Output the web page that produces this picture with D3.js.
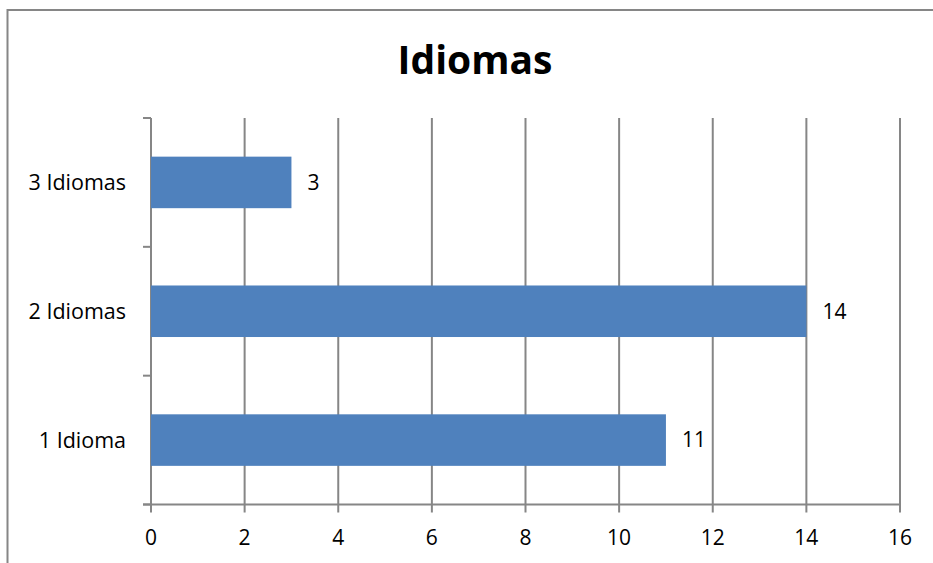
<!DOCTYPE html>
<html>
<head>
<meta charset="utf-8">
<script src="https://cdn.jsdelivr.net/npm/d3@7"></script>
<style>
  body { margin: 0; background: #fff; }
  text { font-family: "Open Sans", Lato, sans-serif; fill: #000; }
</style>
</head>
<body>
<svg></svg>
<script>
// Data
const categories = ["1 Idioma", "2 Idiomas", "3 Idiomas"];
const values = [11, 14, 3];
const xTicks = [0, 2, 4, 6, 8, 10, 12, 14, 16];
const title = "Idiomas";

const width = 933;
const height = 563;

const svg = d3.select("svg").attr("width", width).attr("height", height);

// Outer chart border (right and bottom edges fall outside the canvas)
svg.append("rect")
  .attr("x", 7.5).attr("y", 10)
  .attr("width", 940).attr("height", 570)
  .attr("fill", "#fff")
  .attr("stroke", "#868686")
  .attr("stroke-width", 2);

// Plot area
const plot = { left: 151, right: 900, top: 118, bottom: 504.5 };

const x = d3.scaleLinear().domain([0, 16]).range([plot.left, plot.right]);

// categories bottom-to-top
const y = d3.scaleBand()
  .domain(categories)
  .range([plot.bottom, plot.top])
  .paddingInner(0.6)
  .paddingOuter(0.3);

// Vertical gridlines
svg.append("g")
  .selectAll("line")
  .data(xTicks)
  .join("line")
  .attr("x1", (d) => x(d)).attr("x2", (d) => x(d))
  .attr("y1", plot.top).attr("y2", plot.bottom + 8)
  .attr("stroke", "#868686")
  .attr("stroke-width", 2);

// X axis line
svg.append("line")
  .attr("x1", plot.left - 8).attr("x2", plot.right)
  .attr("y1", plot.bottom).attr("y2", plot.bottom)
  .attr("stroke", "#868686").attr("stroke-width", 2);

// Y axis ticks at category boundaries
const step = (plot.bottom - plot.top) / categories.length;
svg.append("g")
  .selectAll("line")
  .data(d3.range(categories.length + 1))
  .join("line")
  .attr("x1", plot.left - 8).attr("x2", plot.left)
  .attr("y1", (i) => plot.top + i * step)
  .attr("y2", (i) => plot.top + i * step)
  .attr("stroke", "#868686").attr("stroke-width", 2);

// Bars
svg.append("g")
  .selectAll("rect")
  .data(values)
  .join("rect")
  .attr("x", x(0))
  .attr("y", (d, i) => y(categories[i]))
  .attr("width", (d) => x(d) - x(0))
  .attr("height", y.bandwidth())
  .attr("fill", "#4F81BD");

// Value labels
svg.append("g")
  .selectAll("text")
  .data(values)
  .join("text")
  .attr("x", (d) => x(d) + 16)
  .attr("y", (d, i) => y(categories[i]) + y.bandwidth() / 2)
  .attr("dy", "0.35em")
  .attr("font-size", 21)
  .text((d) => d);

// Category labels
svg.append("g")
  .selectAll("text")
  .data(categories)
  .join("text")
  .attr("x", plot.left - 25)
  .attr("y", (d) => y(d) + y.bandwidth() / 2)
  .attr("dy", "0.35em")
  .attr("text-anchor", "end")
  .attr("font-size", 21.5)
  .text((d) => d);

// X tick labels
svg.append("g")
  .selectAll("text")
  .data(xTicks)
  .join("text")
  .attr("x", (d) => x(d))
  .attr("y", 538)
  .attr("dy", "0.35em")
  .attr("text-anchor", "middle")
  .attr("font-size", 21)
  .text((d) => d);

// Title
svg.append("text")
  .attr("x", 475)
  .attr("y", 60)
  .attr("dy", "0.35em")
  .attr("text-anchor", "middle")
  .attr("font-size", 39)
  .attr("font-weight", "bold")
  .text(title);
</script>
</body>
</html>
